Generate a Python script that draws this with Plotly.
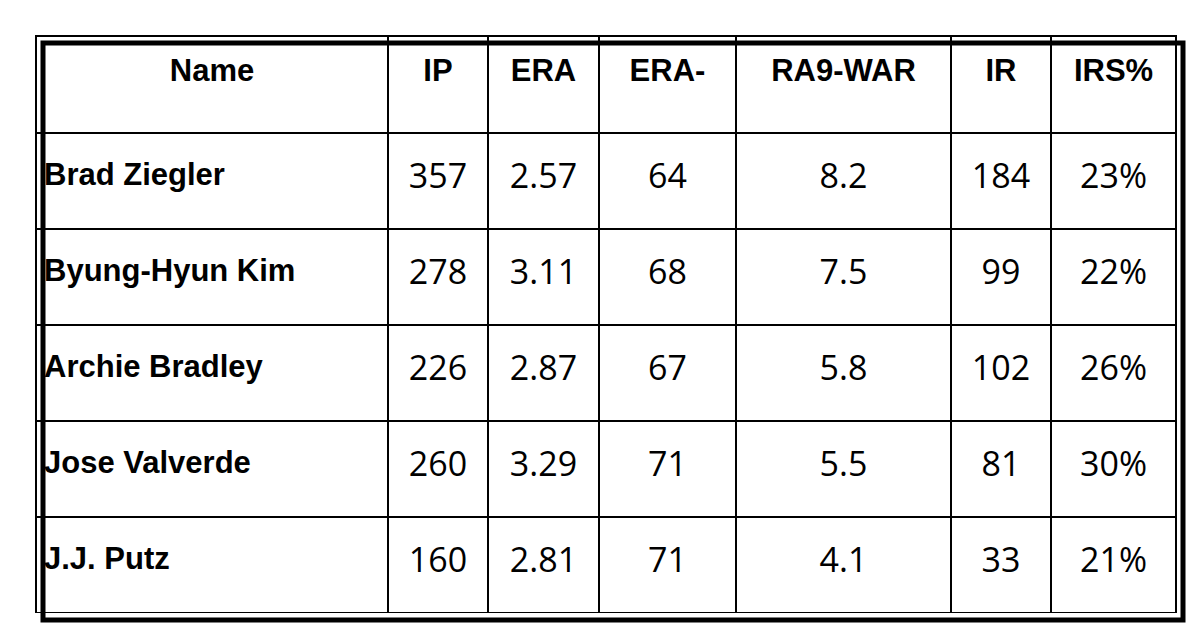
import plotly.graph_objects as go

headers = ["Name", "IP", "ERA", "ERA-", "RA9-WAR", "IR", "IRS%"]
names = ["Brad Ziegler", "Byung-Hyun Kim", "Archie Bradley", "Jose Valverde", "J.J. Putz"]
ip = [357, 278, 226, 260, 160]
era = ["2.57", "3.11", "2.87", "3.29", "2.81"]
era_minus = [64, 68, 67, 71, 71]
ra9_war = ["8.2", "7.5", "5.8", "5.5", "4.1"]
ir = [184, 99, 102, 81, 33]
irs_pct = ["23%", "22%", "26%", "30%", "21%"]

W, H = 1200, 640
x0, x1, y0, y1 = 35, 1175, 35, 612
shift = 7  # plotly insets the table a little


def centred(text, size, bold=False):
    # a small blank first line pushes the value down to the middle of the cell
    t = f"<b>{text}</b>" if bold else str(text)
    return f" <br><span style='font-size:{size}px'>{t}</span>"


cols = [[centred(n, 31, True) for n in names],
        [centred(v, 34) for v in ip],
        [centred(v, 34) for v in era],
        [centred(v, 34) for v in era_minus],
        [centred(v, 34) for v in ra9_war],
        [centred(v, 34) for v in ir],
        [centred(v, 34) for v in irs_pct]]

fig = go.Figure(go.Table(
    domain=dict(x=[(x0 - shift) / W, (x1 - shift) / W],
                y=[1 - (y1 - shift) / H, 1 - (y0 - shift) / H]),
    columnwidth=[352, 100, 111, 137, 215, 100, 125],
    header=dict(
        values=[centred(h, 31, True) for h in headers],
        align="center",
        height=97,
        line=dict(color="black", width=2),
        fill_color="white",
        font=dict(family="Liberation Sans", size=17, color="black"),
    ),
    cells=dict(
        values=cols,
        align=["left"] + ["center"] * 6,
        height=96,
        line=dict(color="black", width=2),
        fill_color="white",
        font=dict(family=["Liberation Sans"] + ["Open Sans"] * 6,
                  size=20, color="black"),
    ),
))

fig.add_shape(type="rect", xref="paper", yref="paper",
              x0=x0 / W, x1=x1 / W, y0=1 - y1 / H, y1=1 - y0 / H,
              line=dict(color="black", width=5))

fig.update_layout(width=W, height=H, margin=dict(l=0, r=0, t=0, b=0),
                  paper_bgcolor="white")
fig.write_html("out.html")
